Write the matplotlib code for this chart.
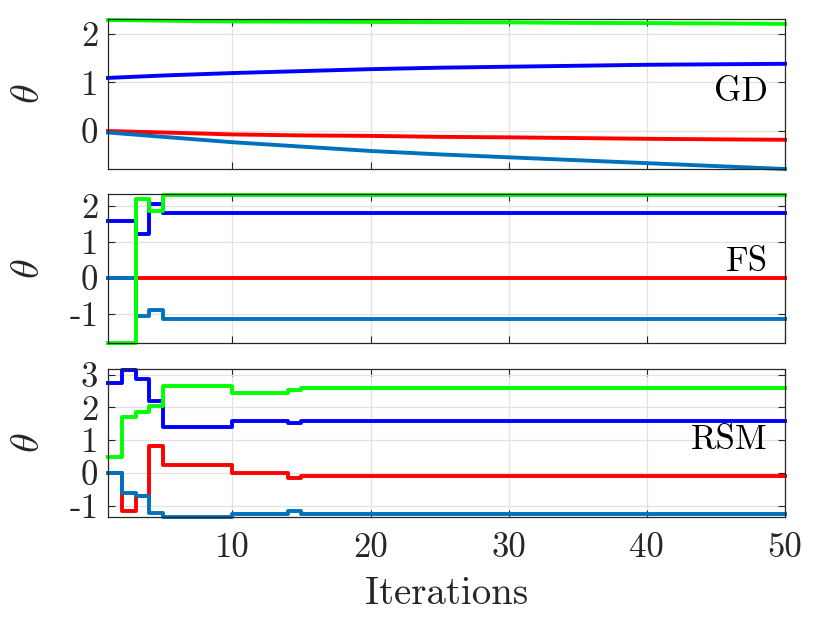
import matplotlib
matplotlib.use('Agg')
import matplotlib.pyplot as plt

plt.rcParams['font.family'] = ['cmr10', 'DejaVu Serif']
plt.rcParams['mathtext.fontset'] = 'cm'
plt.rcParams['axes.unicode_minus'] = False

# colours for the four parameters
c_red = (1, 0, 0)
c_steel = (0, 0.447, 0.741)
c_blue = (0, 0, 1)
c_green = (0, 1, 0)
dark = '#262626'

# GD: smooth curves, read at a few iterations
gd_x = [1, 5, 10, 15, 20, 25, 30, 35, 40, 45, 50]
gd_red = [0.00, -0.03, -0.07, -0.09, -0.10, -0.12, -0.13, -0.145, -0.16, -0.17, -0.18]
gd_steel = [-0.03, -0.12, -0.23, -0.32, -0.41, -0.48, -0.54, -0.60, -0.66, -0.72, -0.78]
gd_blue = [1.09, 1.14, 1.19, 1.23, 1.27, 1.30, 1.32, 1.34, 1.36, 1.37, 1.38]
gd_green = [2.28, 2.265, 2.25, 2.245, 2.24, 2.235, 2.23, 2.22, 2.215, 2.21, 2.20]

# FS: stairs, value holds from one change point to the next
fs_x = [1, 3, 4, 5, 50]
fs_red = [0.0, 0.0, 0.0, 0.0, 0.0]
fs_steel = [0.0, -1.07, -0.91, -1.14, -1.14]
fs_blue = [1.59, 1.22, 2.05, 1.79, 1.79]
fs_green = [-1.82, 2.19, 1.87, 2.31, 2.31]

# RSM: stairs
rsm_x = [1, 2, 3, 4, 5, 10, 14, 15, 50]
rsm_red = [0.0, -1.18, -0.70, 0.82, 0.25, -0.02, -0.17, -0.09, -0.09]
rsm_steel = [0.0, -0.63, -0.70, -1.24, -1.35, -1.27, -1.17, -1.26, -1.26]
rsm_blue = [2.75, 3.15, 2.85, 2.19, 1.41, 1.57, 1.52, 1.59, 1.59]
rsm_green = [0.48, 1.70, 1.85, 2.05, 2.66, 2.44, 2.53, 2.59, 2.59]

x_ticks = [10, 20, 30, 40, 50]

fig = plt.figure(figsize=(8.3, 6.23), dpi=100)
left, width = 108 / 830, 677 / 830
ax1 = fig.add_axes([left, 1 - 169 / 623, width, 150 / 623])
ax2 = fig.add_axes([left, 1 - 343 / 623, width, 149 / 623])
ax3 = fig.add_axes([left, 1 - 517 / 623, width, 148 / 623])

lw = 2.8
ax1.plot(gd_x, gd_red, color=c_red, lw=lw, clip_on=False)
ax1.plot(gd_x, gd_steel, color=c_steel, lw=lw, clip_on=False)
ax1.plot(gd_x, gd_blue, color=c_blue, lw=lw, clip_on=False)
ax1.plot(gd_x, gd_green, color=c_green, lw=lw, clip_on=False)

for ax, xs, series in [(ax2, fs_x, [fs_red, fs_steel, fs_blue, fs_green]),
                       (ax3, rsm_x, [rsm_red, rsm_steel, rsm_blue, rsm_green])]:
    for ys, c in zip(series, [c_red, c_steel, c_blue, c_green]):
        ax.step(xs, ys, where='post', color=c, lw=lw, clip_on=False)

panels = [
    (ax1, [gd_red, gd_steel, gd_blue, gd_green], [0, 1, 2], 'GD', 0.51),
    (ax2, [fs_red, fs_steel, fs_blue, fs_green], [-1, 0, 1, 2], 'FS', 0.54),
    (ax3, [rsm_red, rsm_steel, rsm_blue, rsm_green], [-1, 0, 1, 2, 3], 'RSM', 0.52),
]
for ax, series, yt, name, ty in panels:
    lo = min(min(s) for s in series)
    hi = max(max(s) for s in series)
    ax.set_ylim(lo, hi + 0.02)
    ax.set_xlim(1, 50)
    ax.set_yticks(yt)
    ax.set_yticklabels([str(v) for v in yt])
    ax.set_xticks(x_ticks)
    ax.grid(True, color='#e2e2e2', lw=0.9)
    ax.set_axisbelow(True)
    ax.tick_params(direction='in', top=True, right=True, length=5,
                   labelsize=25, color=dark, labelcolor=dark)
    ax.tick_params(axis='y', pad=7)
    ax.tick_params(axis='x', pad=11)
    for sp in ax.spines.values():
        sp.set_color(dark)
        sp.set_linewidth(0.9)
    ax.set_ylabel(r'$\theta$', fontsize=29, color=dark)
    ax.yaxis.set_label_coords(-0.09, 0.5)
    ax.text(0.975, ty, name, transform=ax.transAxes, ha='right', va='center',
            fontsize=25, color='black')

ax1.set_xticklabels([])
ax2.set_xticklabels([])
ax3.set_xticklabels([str(v) for v in x_ticks])
ax3.set_xlabel('Iterations', fontsize=28, color=dark)
ax3.xaxis.set_label_coords(0.5, -0.40)

fig.savefig('out.png', dpi=100)
